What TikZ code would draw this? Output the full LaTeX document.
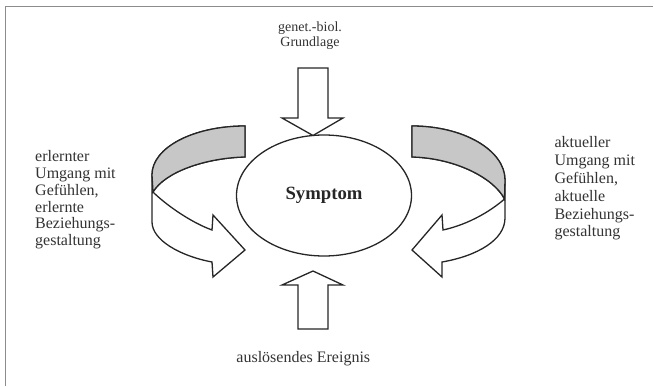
\documentclass[tikz,border=0pt]{standalone}
\usepackage{fontspec}
\setmainfont{Liberation Serif}
\usetikzlibrary{shapes.geometric}
\begin{document}
\begin{tikzpicture}[x=1pt,y=-1pt,
  outl/.style={draw=black!85, line width=1.3pt, line join=miter},
  bandfill/.style={fill=black!22},
  lbl/.style={inner sep=0pt, text=black!80, align=left},
]
\useasboundingbox (0,0) rectangle (654,386);
% frame (top and left only)
\draw[black!45, line width=1.4pt] (5.5,386) -- (5.5,6.5) -- (653,6.5);

% central ellipse
\node[outl, ellipse, minimum width=175pt, minimum height=121pt, inner sep=0pt,
      font=\fontsize{18.7}{20}\selectfont\bfseries, text=black!85] (sym) at (324,195.5) {Symptom};

% top block arrow (down)
\coordinate (toptip) at (313,135.5);
\draw[outl, fill=white] (298,68) -- (328,68) -- (328,118) -- (343,118) -- (toptip) -- (282,118) -- (298,118) -- cycle;

% bottom block arrow (up)
\coordinate (bottip) at (313,271);
\draw[outl, fill=white] (298,329) -- (328,329) -- (328,285) -- (343,285) -- (bottip) -- (282,285) -- (298,285) -- cycle;

% left curved arrow
\draw[outl, fill=white] (245,126) .. controls (193.7,126) and (152,147.4) .. (152,175)
  -- (152,222) .. controls (152,240) and (180,256) .. (212,262)
  -- (213,277) -- (245,250) -- (213,215) -- (212,230)
  .. controls (190,222) and (165,204) .. (153,192)
  .. controls (165,172) and (205,158) .. (245,157) -- cycle;
\draw[outl, bandfill] (245,126) .. controls (193.7,126) and (152,147.4) .. (152,175)
  -- (153,192) .. controls (165,172) and (205,158) .. (245,157) -- cycle;

% right curved arrow
\draw[outl, fill=white] (412,126) .. controls (463.3,126) and (505,150.2) .. (505,180)
  -- (505,218) .. controls (505,240) and (477,256) .. (442,262)
  -- (442,277) -- (412,250) -- (442,215) -- (443,230)
  .. controls (470,224) and (492,210) .. (504.5,199)
  .. controls (494,178) and (455,158) .. (412,157) -- cycle;
\draw[outl, bandfill] (412,126) .. controls (463.3,126) and (505,150.2) .. (505,180)
  -- (504.5,199) .. controls (494,178) and (455,158) .. (412,157) -- cycle;

% labels
\node[lbl, anchor=north west, font=\fontsize{16}{16.7}\selectfont] (lt) at (35,150.6)
  {erlernter\\Umgang mit\\Gefühlen,\\erlernte\\Beziehungs-\\gestaltung};
\node[lbl, anchor=north west, font=\fontsize{16}{17.8}\selectfont] (rt) at (554.3,136.6)
  {aktueller\\Umgang mit\\Gefühlen,\\aktuelle\\Beziehungs-\\gestaltung};
\node[lbl, align=center, anchor=north, font=\fontsize{14}{15}\selectfont] (gen) at (310,21.5)
  {genet.-biol.\\Grundlage};
\node[lbl, anchor=base, font=\fontsize{16}{19}\selectfont] (aus) at (303.3,362.3)
  {auslösendes Ereignis};
\end{tikzpicture}
\end{document}
